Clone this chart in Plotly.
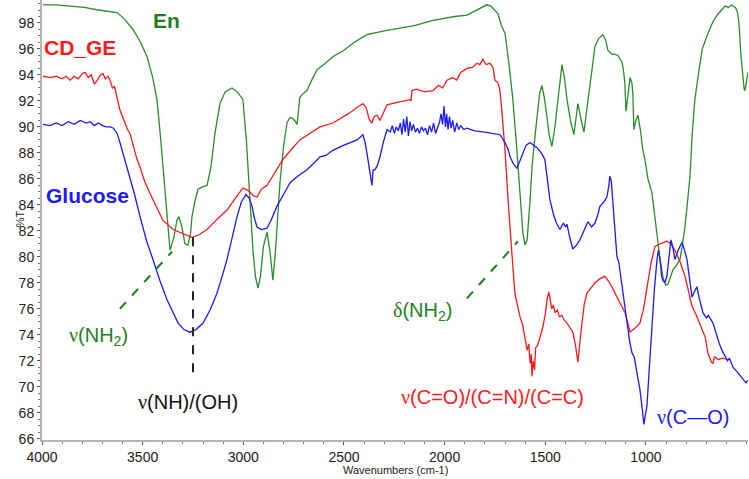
import plotly.graph_objects as go

# FTIR spectra (wavenumber cm-1, %T)
en_wn = [3995, 3930, 3860, 3790, 3720, 3660, 3627, 3590, 3548, 3510, 3478, 3450, 3429, 3410,
         3399, 3385, 3374, 3364, 3345, 3330, 3320, 3305, 3290, 3275, 3262, 3255, 3240, 3225,
         3200, 3180, 3160, 3141, 3116, 3090, 3056, 3030, 3002, 2985, 2967, 2952, 2940, 2927,
         2915, 2900, 2882, 2868, 2853, 2840, 2818, 2800, 2783, 2770, 2758, 2745, 2733, 2719,
         2700, 2684, 2660, 2634, 2600, 2555, 2500, 2450, 2386, 2300, 2222, 2150, 2058, 1950,
         1889, 1840, 1810, 1790, 1770, 1750, 1735, 1718, 1700, 1680, 1661, 1645, 1636, 1620,
         1611, 1600, 1590, 1575, 1566, 1553, 1541, 1528, 1517, 1505, 1492, 1480, 1467, 1452,
         1437, 1425, 1417, 1405, 1392, 1375, 1358, 1348, 1338, 1325, 1308, 1295, 1278, 1265,
         1253, 1235, 1214, 1200, 1189, 1170, 1155, 1139, 1120, 1114, 1105, 1099, 1090, 1079,
         1070, 1065, 1060, 1050, 1040, 1028, 1015, 1005, 990, 970, 955, 945, 930, 915, 901,
         890, 880, 866, 850, 831, 820, 806, 795, 781, 770, 757, 740, 720, 692, 670, 647, 625,
         607, 590, 575, 568, 555, 545, 538, 528, 518, 512, 508, 500, 493]
en_t = [99.4, 99.4, 99.3, 99.2, 99.0, 98.9, 98.8, 98.3, 97.5, 96.5, 95.4, 93.8, 92.1, 89.0,
        86.9, 84.0, 82.0, 80.5, 81.5, 82.8, 83.1, 82.3, 81.0, 80.9, 81.8, 83.1, 84.3, 85.2,
        85.4, 85.5, 87.0, 89.5, 91.8, 92.7, 93.0, 92.7, 92.1, 89.0, 84.4, 80.5, 78.5, 77.6,
        78.5, 80.8, 81.9, 80.5, 78.2, 80.5, 85.7, 88.5, 90.3, 90.7, 90.7, 90.5, 90.2, 92.3,
        92.6, 92.8, 93.6, 94.4, 94.8, 95.4, 95.9, 96.5, 97.1, 97.4, 97.6, 97.8, 98.2, 98.5,
        98.6, 99.0, 99.3, 99.4, 99.3, 99.0, 98.7, 97.8, 97.2, 94.8, 92.1, 89.0, 86.9, 83.5,
        81.8, 80.9, 81.3, 84.5, 86.9, 89.0, 90.8, 92.6, 93.2, 92.3, 90.8, 89.3, 88.5, 90.0,
        92.1, 94.0, 94.8, 93.8, 92.1, 90.5, 89.4, 90.6, 91.8, 90.8, 89.6, 91.2, 93.4, 94.8,
        96.2, 96.8, 97.1, 96.7, 95.9, 95.6, 95.6, 95.5, 95.0, 94.6, 93.5, 91.2, 92.5, 93.8,
        93.4, 92.6, 89.8, 90.5, 90.9, 89.8, 88.2, 87.5, 86.0, 84.9, 83.0, 81.5, 79.8, 78.4, 77.8,
        77.9, 78.3, 79.0, 79.3, 79.8, 80.8, 82.3, 84.0, 86.2, 89.5, 92.1, 94.0, 96.0, 97.2, 98.0,
        98.6, 99.0, 99.3, 99.2, 99.4, 99.3, 99.2, 98.8, 98.0, 95.5, 93.6, 92.9, 92.8, 93.5, 94.2]

cd_wn = [3995, 3960, 3930, 3900, 3880, 3860, 3840, 3820, 3800, 3786, 3770, 3755, 3740, 3725,
         3710, 3697, 3685, 3672, 3662, 3650, 3640, 3627, 3613, 3600, 3590, 3575, 3563, 3545,
         3530, 3513, 3490, 3464, 3430, 3399, 3349, 3300, 3255, 3220, 3180, 3130, 3081, 3040,
         3002, 2975, 2950, 2932, 2910, 2882, 2850, 2803, 2760, 2719, 2670, 2619, 2555, 2480,
         2406, 2390, 2375, 2361, 2350, 2336, 2321, 2305, 2286, 2230, 2172, 2167, 2162, 2140,
         2100, 2058, 2030, 2010, 1988, 1960, 1940, 1920, 1889, 1860, 1840, 1825, 1810, 1795,
         1775, 1760, 1750, 1735, 1725, 1715, 1700, 1685, 1675, 1666, 1651, 1640, 1626, 1613,
         1601, 1590, 1582, 1575, 1570, 1566, 1560, 1553, 1548, 1541, 1530, 1520, 1512, 1500,
         1490, 1482, 1475, 1468, 1460, 1452, 1440, 1430, 1418, 1405, 1392, 1378, 1363, 1350,
         1338, 1320, 1306, 1293, 1270, 1253, 1230, 1204, 1180, 1160, 1144, 1125, 1104, 1090,
         1079, 1055, 1030, 1012, 995, 975, 955, 930, 896, 875, 856, 830, 806, 790, 771, 750,
         722, 705, 692, 680, 675, 667, 660, 640, 620, 598]
cd_t = [93.9, 93.8, 93.9, 93.7, 93.9, 93.6, 93.9, 93.7, 94.1, 94.2, 93.8, 94.0, 93.3, 93.6,
        94.0, 94.1, 93.7, 93.9, 93.6, 93.0, 93.1, 92.3, 91.3, 90.8, 90.4, 89.8, 89.5, 88.5,
        87.6, 86.9, 85.8, 84.9, 83.8, 82.8, 82.1, 81.8, 81.5, 81.7, 82.1, 82.9, 83.6, 84.5,
        85.3, 85.1, 84.7, 84.6, 85.2, 85.5, 86.3, 87.5, 88.3, 89.0, 89.5, 90.0, 90.3, 91.0,
        91.8, 91.5, 90.6, 90.3, 90.8, 90.9, 90.5, 91.0, 91.7, 91.9, 92.1, 92.0, 92.8, 92.9,
        92.7, 92.8, 93.2, 93.0, 93.6, 93.8, 93.6, 94.2, 94.5, 94.6, 94.9, 94.8, 95.2, 94.8,
        94.9, 94.6, 93.6, 93.4, 92.8, 91.1, 88.2, 84.4, 82.0, 80.3, 77.2, 76.3, 75.4, 74.8,
        73.8, 72.8, 73.3, 71.8, 72.5, 70.8, 72.0, 71.3, 73.0, 73.1, 73.6, 74.2, 74.6, 75.6,
        76.8, 77.3, 76.6, 76.0, 76.3, 75.7, 75.9, 75.4, 75.5, 75.1, 74.9, 74.6, 74.2, 73.2,
        71.9, 74.6, 76.4, 77.2, 77.7, 78.0, 78.3, 78.5, 78.0, 77.4, 76.9, 76.3, 75.7, 74.9,
        74.2, 74.5, 74.9, 76.0, 77.7, 79.5, 80.8, 81.0, 81.2, 81.0, 80.5, 79.6, 78.5, 77.5,
        76.2, 75.5, 74.4, 73.8, 72.6, 72.2, 71.9, 71.8, 72.3, 72.1, 72.2, 72.1]

glu_wn = [3995, 3960, 3930, 3900, 3870, 3840, 3810, 3780, 3760, 3740, 3720, 3700, 3680, 3662,
          3645, 3627, 3613, 3598, 3580, 3563, 3540, 3513, 3480, 3449, 3415, 3379, 3350, 3324,
          3295, 3265, 3235, 3200, 3165, 3131, 3105, 3081, 3055, 3031, 3010, 2987, 2970, 2957,
          2945, 2932, 2910, 2882, 2860, 2833, 2800, 2768, 2730, 2684, 2650, 2619, 2590, 2555,
          2500, 2435, 2406, 2395, 2381, 2370, 2361, 2355, 2346, 2335, 2321, 2305, 2286, 2270,
          2260, 2250, 2240, 2230, 2220, 2212, 2204, 2196, 2188, 2180, 2172, 2164, 2155, 2145,
          2135, 2125, 2115, 2105, 2095, 2085, 2075, 2065, 2055, 2045, 2035, 2025, 2018, 2010,
          2003, 1996, 1990, 1983, 1976, 1968, 1960, 1950, 1940, 1930, 1920, 1905, 1889, 1850,
          1800, 1760, 1725, 1700, 1685, 1675, 1660, 1641, 1625, 1611, 1595, 1576, 1560, 1541,
          1520, 1502, 1490, 1477, 1460, 1445, 1427, 1410, 1400, 1392, 1380, 1363, 1345, 1328,
          1308, 1288, 1270, 1253, 1240, 1228, 1210, 1194, 1185, 1179, 1172, 1164, 1155, 1144,
          1135, 1130, 1119, 1105, 1089, 1080, 1069, 1058, 1045, 1030, 1020, 1013, 1010, 1003,
          995, 985, 975, 970, 958, 945, 938, 930, 922, 916, 906, 896, 886, 876, 866, 856, 840,
          821, 810, 796, 785, 771, 760, 747, 735, 717, 700, 690, 667, 650, 635, 622, 605, 595,
          585, 568, 550, 535, 520, 503, 495]
glu_t = [90.2, 90.1, 90.3, 90.1, 90.4, 90.2, 90.5, 90.3, 90.4, 90.1, 90.3, 90.1, 90.0, 90.0,
         89.9, 89.5, 88.8, 88.0, 87.1, 86.2, 84.8, 83.1, 81.2, 79.8, 78.2, 76.7, 75.8, 74.9,
         74.4, 74.2, 74.4, 74.9, 75.9, 77.2, 78.5, 79.8, 81.5, 83.1, 84.2, 84.8, 84.5, 83.9,
         83.0, 82.3, 82.1, 82.2, 82.9, 83.9, 84.8, 85.7, 86.2, 86.7, 87.2, 87.7, 87.8, 88.2,
         88.6, 89.0, 89.4, 88.8, 87.5, 86.2, 85.5, 86.7, 86.7, 87.0, 87.7, 88.8, 89.8, 89.6,
         90.1, 89.5, 90.0, 89.7, 90.3, 89.4, 90.6, 89.6, 90.8, 89.3, 90.4, 89.7, 90.2, 89.6,
         89.9, 89.5, 90.0, 89.7, 89.9, 89.4, 90.1, 89.6, 90.3, 89.5, 90.0, 90.4, 91.0, 90.2,
         91.6, 90.0, 91.0, 89.8, 90.8, 89.9, 90.5, 89.6, 90.3, 89.8, 90.1, 89.8, 89.9, 89.7,
         89.6, 89.5, 89.4, 88.8, 88.3, 87.7, 87.2, 86.8, 87.4, 88.0, 88.6, 88.8, 88.6, 88.4,
         88.0, 87.5, 86.0, 84.4, 83.3, 82.6, 82.1, 82.6, 82.3, 82.5, 81.6, 80.6, 80.9, 81.3,
         82.0, 82.7, 82.3, 82.6, 83.2, 83.9, 84.2, 84.6, 85.4, 86.2, 85.8, 84.2, 82.3, 80.0,
         79.6, 79.0, 78.0, 76.0, 74.2, 73.4, 72.6, 72.3, 71.1, 69.8, 68.5, 67.3, 67.1, 67.8,
         68.5, 71.0, 73.5, 74.6, 77.5, 79.8, 80.5, 79.8, 78.5, 78.2, 78.0, 78.5, 80.0, 81.3,
         80.7, 79.8, 80.5, 81.1, 80.6, 79.8, 78.5, 76.9, 77.3, 77.7, 76.8, 75.7, 75.3, 75.5,
         74.9, 74.0, 73.3, 72.8, 72.3, 72.0, 72.2, 71.5, 71.2, 70.9, 70.6, 70.3, 70.5]

x_ticks = [4000, 3500, 3000, 2500, 2000, 1500, 1000]
y_ticks = list(range(66, 100, 2))

GREEN = "#2a8c2a"
RED = "#ff1a1a"
BLUE = "#1a1aff"
NU = '<span style="font-family:Liberation Serif">ν</span>'
DELTA = '<span style="font-family:Liberation Serif">δ</span>'

fig = go.Figure()
fig.add_trace(go.Scatter(x=en_wn, y=en_t, mode="lines", line=dict(color=GREEN, width=1.3)))
fig.add_trace(go.Scatter(x=cd_wn, y=cd_t, mode="lines", line=dict(color=RED, width=1.3)))
fig.add_trace(go.Scatter(x=glu_wn, y=glu_t, mode="lines", line=dict(color=BLUE, width=1.3)))

# dashed pointer lines
fig.add_shape(type="line", x0=3613, y0=76.0, x1=3354, y1=80.4,
              line=dict(color="#1e7a1e", width=2, dash="dash"))
fig.add_shape(type="line", x0=3250, y0=81.5, x1=3250, y1=70.5,
              line=dict(color="#222", width=2, dash="dash"))
fig.add_shape(type="line", x0=1889, y0=76.8, x1=1636, y1=81.2,
              line=dict(color="#1e7a1e", width=2, dash="dash"))

def label(x, y, text, color, size=20, bold=False):
    fig.add_annotation(x=x, y=y, text=f"<b>{text}</b>" if bold else text, showarrow=False,
                       font=dict(family="Liberation Sans, Arial", size=size, color=color),
                       xanchor="center", yanchor="middle")

label(3384, 98.2, "En", "#1f7f1f", 21, True)
label(3811, 96.1, "CD_GE", RED, 21, True)
label(3772, 84.7, "Glucose", BLUE, 21, True)
label(3717, 73.9, f"{NU}(NH<sub>2</sub>)", "#1f7f1f")
label(3275, 68.8, f"{NU}(NH)/(OH)", "#111")
label(2108, 75.8, f"{DELTA}(NH<sub>2</sub>)", "#1f7f1f")
label(1760, 69.2, f"{NU}(C=O)/(C=N)/(C=C)", RED)
label(766, 67.7, f"{NU}(C—O)", BLUE)

# axis titles
fig.add_annotation(xref="paper", x=0, xshift=-30, yref="y", y=82.9, text="%T",
                   textangle=-90, showarrow=False,
                   font=dict(family="Liberation Sans Narrow, Liberation Sans", size=11, color="#222"))
fig.add_annotation(xref="paper", x=0.5, yref="paper", y=0, yshift=-30,
                   text="Wavenumbers (cm-1)", showarrow=False, yanchor="middle",
                   font=dict(family="Liberation Sans Narrow, Liberation Sans", size=11, color="#222"))

tick_font = dict(family="Liberation Sans Narrow, Arial Narrow, Liberation Sans", size=14, color="#222")
fig.update_xaxes(range=[4000, 493], tickvals=x_ticks, showgrid=False, zeroline=False,
                 showline=True, linecolor="#b5b5b5", linewidth=2, ticks="outside",
                 ticklen=3, tickcolor="#555", tickfont=tick_font,
                 minor=dict(dtick=100, ticks="outside", ticklen=2, tickcolor="#777"))
fig.update_yaxes(range=[65.9, 99.77], tickvals=y_ticks, showgrid=False, zeroline=False,
                 showline=True, linecolor="#b5b5b5", linewidth=2, ticks="outside",
                 ticklen=3, tickcolor="#555", tickfont=tick_font,
                 minor=dict(dtick=0.5, ticks="outside", ticklen=2, tickcolor="#777"))
fig.update_layout(width=749, height=479, showlegend=False,
                  plot_bgcolor="white", paper_bgcolor="white",
                  margin=dict(l=42, r=1, t=0, b=39))

# the page's default body margin would shift the chart by 8px
fig.write_html("out.html", config={"displayModeBar": False},
               post_script="document.body.style.margin='0';")
